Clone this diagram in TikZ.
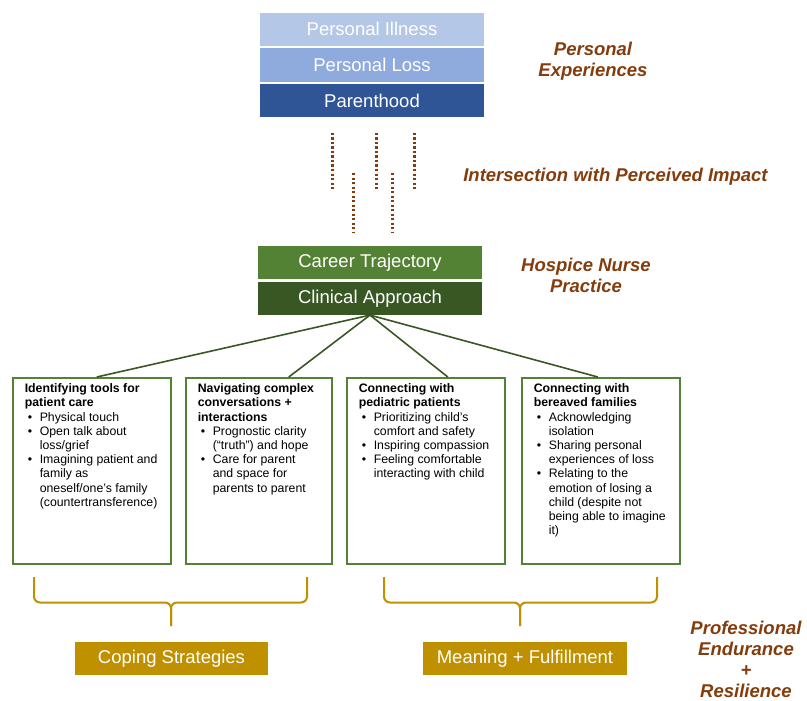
\documentclass[tikz,border=0pt]{standalone}
\usepackage{fontspec}
\setmainfont{Liberation Sans}
\usetikzlibrary{positioning}
\definecolor{blueA}{HTML}{B4C7E7}
\definecolor{blueB}{HTML}{8FAADC}
\definecolor{blueC}{HTML}{2F5597}
\definecolor{greenA}{HTML}{548235}
\definecolor{greenB}{HTML}{385723}
\definecolor{rust}{HTML}{843C0C}
\definecolor{gold}{HTML}{BF9000}
\newcommand{\bitem}[1]{\par\noindent\hangindent=15pt\hangafter=1\makebox[15pt][l]{\hspace{3pt}\textbullet}#1}
\newcommand{\themetext}[2]{\parbox[t][174pt][t]{#1}{\raggedright\parindent=0pt #2}}
\begin{document}
\begin{tikzpicture}[x=1pt,y=-1pt,
  block/.style={minimum width=224, minimum height=33.3, inner sep=0, text=white, font=\fontsize{18.5}{20}\selectfont},
  theme/.style={draw=greenA, line width=1.6, anchor=north west, inner xsep=12, inner ysep=6, font=\fontsize{12.3}{14.2}\selectfont},
  heading/.style={text=rust, align=center, font=\fontsize{18.5}{21}\selectfont\bfseries\itshape},
  link/.style={draw=greenB, line width=1.6},
  dots/.style={draw=rust, line width=3, dash pattern=on 2.2pt off 2.3pt},
  brace/.style={draw=gold, line width=2, rounded corners=6},
  outcome/.style={fill=gold, text=white, minimum height=33, inner sep=0, font=\fontsize{18.5}{20}\selectfont}]
\useasboundingbox (0,0) rectangle (807,701);
% personal experiences
\node[block, fill=blueA] (illness) at (372,29.2) {Personal Illness};
\node[block, fill=blueB, below=2pt of illness] (loss) {Personal Loss};
\node[block, fill=blueC, below=2pt of loss] (parent) {Parenthood};
\node[heading] (experiences) at (593,61.5) {Personal\\Experiences};
% intersection
\draw[dots] (332,133) -- (332,190);
\draw[dots] (376,133) -- (376,190);
\draw[dots] (414,133) -- (414,190);
\draw[dots] (353,173) -- (353,232);
\draw[dots] (392,173) -- (392,232);
\node[heading] (impact) at (615.5,177) {Intersection with Perceived Impact};
% hospice nurse practice
\node[block, fill=greenA, minimum height=33] (career) at (370,262.5) {Career Trajectory};
\node[block, fill=greenB, minimum height=33, below=2.5pt of career] (clinical) {Clinical Approach};
\node[heading] (practice) at (586,275.5) {Hospice Nurse\\Practice};
% themes
\node[theme] (tools) at (12,377) {\themetext{134pt}{%
  \textbf{Identifying tools for\newline patient care}
  \bitem{Physical touch}
  \bitem{Open talk about\newline loss/grief}
  \bitem{Imagining patient and\newline family as\newline oneself/one’s family\newline (countertransference)}}};
\node[theme] (talks) at (185,377) {\themetext{122pt}{%
  \textbf{Navigating complex\newline conversations +\newline interactions}
  \bitem{Prognostic clarity\newline (“truth”) and hope}
  \bitem{Care for parent\newline and space for\newline parents to parent}}};
\node[theme] (pediatric) at (346,377) {\themetext{134pt}{%
  \textbf{Connecting with\newline pediatric patients}
  \bitem{Prioritizing child’s\newline comfort and safety}
  \bitem{Inspiring compassion}
  \bitem{Feeling comfortable\newline interacting with child}}};
\node[theme] (bereaved) at (521,377) {\themetext{134pt}{%
  \textbf{Connecting with\newline bereaved families}
  \bitem{Acknowledging\newline isolation}
  \bitem{Sharing personal\newline experiences of loss}
  \bitem{Relating to the\newline emotion of losing a\newline child (despite not\newline being able to imagine\newline it)}}};
\draw[link] (clinical.south) -- ([xshift=5]tools.north);
\draw[link] (clinical.south) -- ([xshift=30]talks.north);
\draw[link] (clinical.south) -- ([xshift=22]pediatric.north);
\draw[link] (clinical.south) -- ([xshift=-3]bereaved.north);
% braces
\draw[brace] (34,577) -- (34,602.5) -- (171,602.5) -- (171,626);
\draw[brace] (307,577) -- (307,602.5) -- (171,602.5) -- (171,626);
\draw[brace] (384,577) -- (384,602.5) -- (520,602.5) -- (520,626);
\draw[brace] (657,577) -- (657,602.5) -- (520,602.5) -- (520,626);
% outcomes
\node[outcome, minimum width=193] (coping) at (171.5,658.5) {Coping Strategies};
\node[outcome, minimum width=204] (meaning) at (525,658.5) {Meaning + Fulfillment};
\node[heading] (endurance) at (746,659.5) {Professional\\Endurance\\+\\Resilience};
\end{tikzpicture}
\end{document}
